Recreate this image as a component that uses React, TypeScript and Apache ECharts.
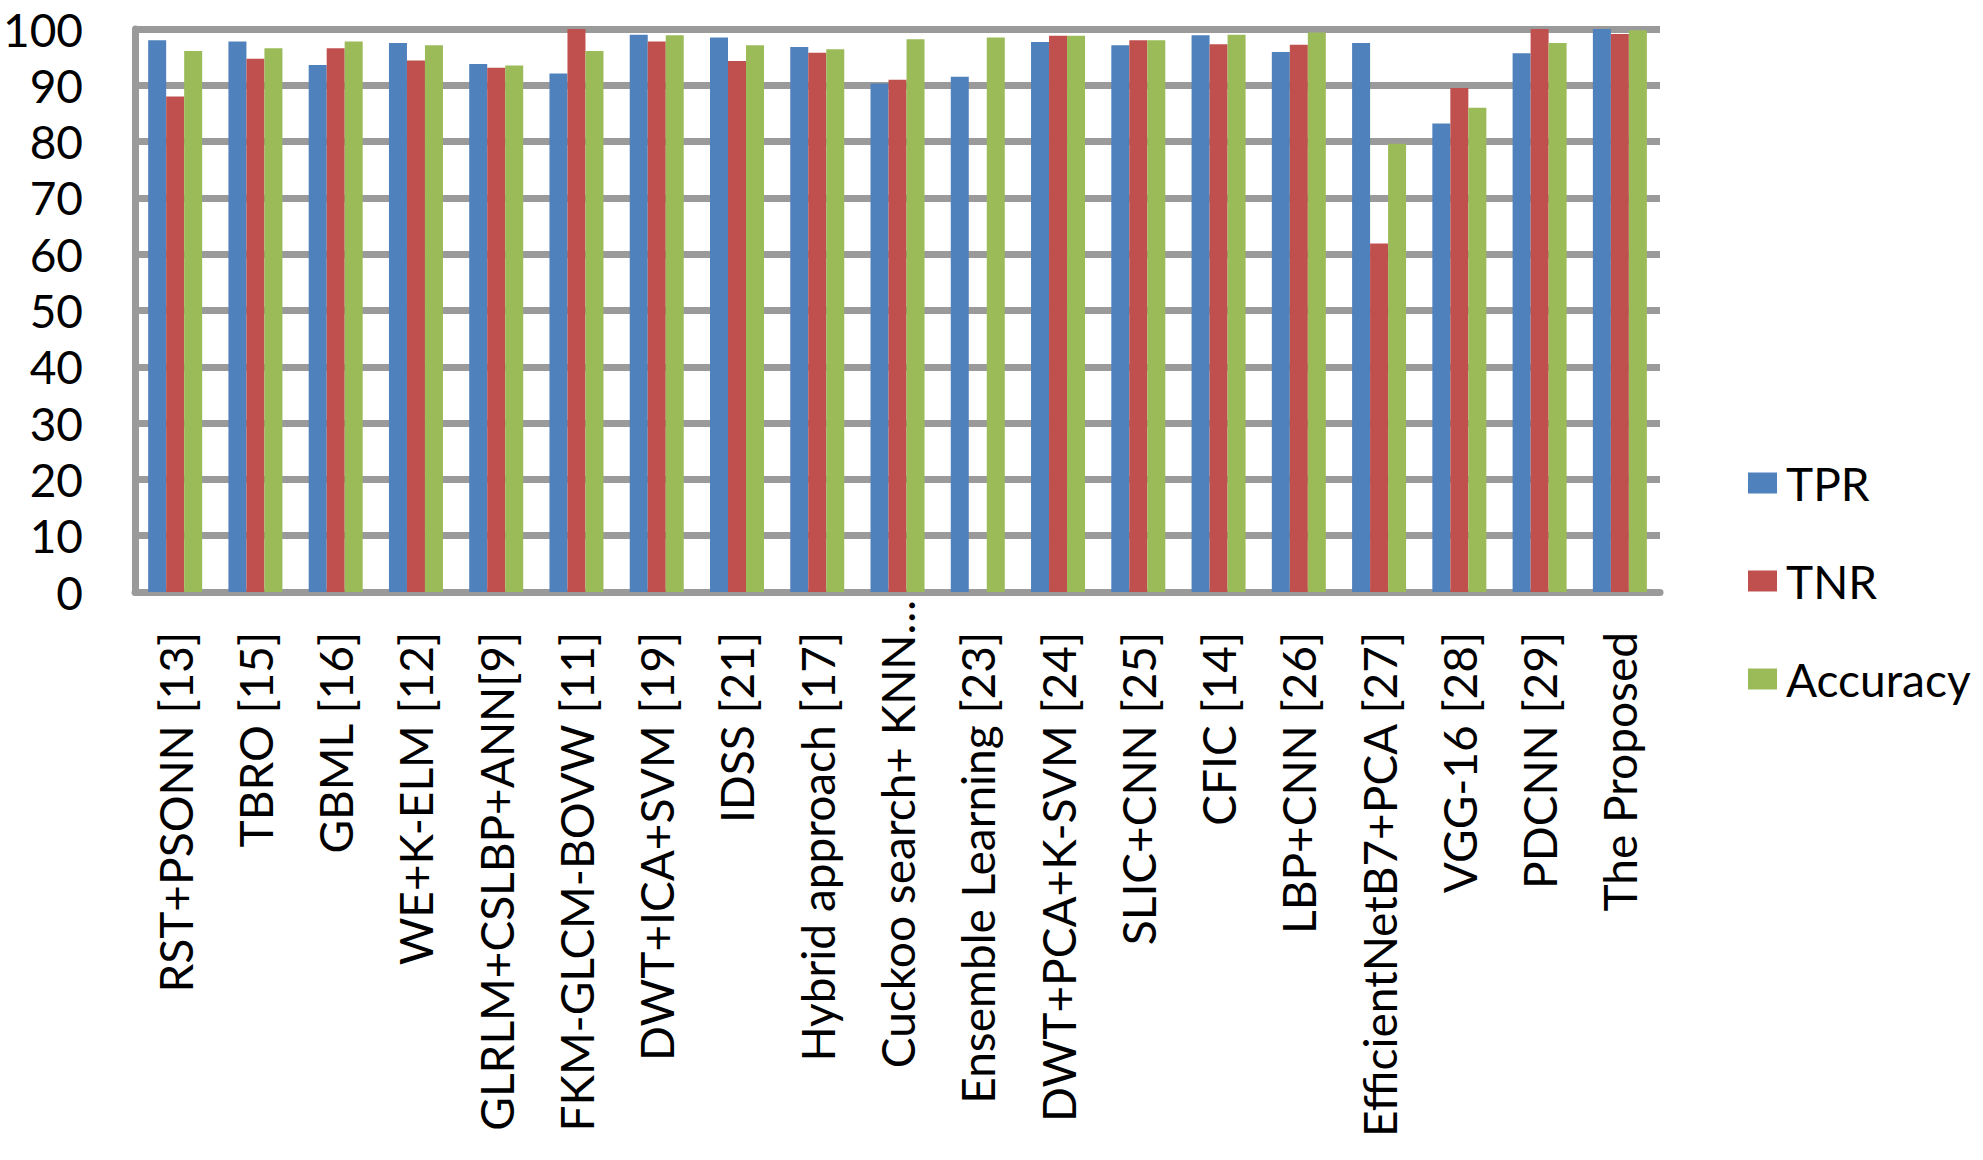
import React, { useEffect, useRef } from "react";
import * as echarts from "echarts";

const categories = [
  "RST+PSONN [13]",
  "TBRO [15]",
  "GBML [16]",
  "WE+K-ELM [12]",
  "GLRLM+CSLBP+ANN[9]",
  "FKM-GLCM-BOVW [11]",
  "DWT+ICA+SVM [19]",
  "IDSS [21]",
  "Hybrid approach [17]",
  "Cuckoo search+ KNN…",
  "Ensemble Learning [23]",
  "DWT+PCA+K-SVM [24]",
  "SLIC+CNN [25]",
  "CFIC [14]",
  "LBP+CNN [26]",
  "EfficientNetB7+PCA [27]",
  "VGG-16 [28]",
  "PDCNN [29]",
  "The Proposed",
];

const tpr = [98.0, 97.8, 93.6, 97.5, 93.8, 92.1, 99.0, 98.5, 96.8, 90.3, 91.5, 97.7, 97.1, 98.9, 95.9, 97.5, 83.2, 95.7, 100];
const tnr = [88.0, 94.7, 96.6, 94.4, 93.1, 100, 97.8, 94.3, 95.8, 91.0, null, 98.8, 98.0, 97.3, 97.2, 61.9, 89.5, 100, 99.1];
const accuracy = [96.1, 96.6, 97.8, 97.1, 93.5, 96.1, 98.9, 97.1, 96.4, 98.2, 98.5, 98.8, 98.0, 99.0, 99.4, 79.6, 86.0, 97.5, 99.8];

const seriesNames = ["TPR", "TNR", "Accuracy"];
const seriesColors = ["#4F81BD", "#C0504D", "#9BBB59"];
const yTicks = [0, 100, 10];

const FONT = "Lato";
const GRAY = "#9a9a9a";

export default function App() {
  const ref = useRef<HTMLDivElement>(null);
  useEffect(() => {
    document.body.style.margin = "0";
    const chart = echarts.init(ref.current!, null, { renderer: "svg" });
    const data = [tpr, tnr, accuracy];
    chart.setOption({
      animation: false,
      backgroundColor: "#ffffff",
      textStyle: { fontFamily: FONT },
      grid: { left: 132, right: 323, top: 29, bottom: 568, containLabel: false },
      legend: {
        orient: "vertical",
        left: 1743,
        top: 455,
        itemWidth: 29,
        itemHeight: 21,
        itemGap: 52,
        icon: "rect",
        data: seriesNames,
        textStyle: { fontFamily: FONT, fontSize: 46, color: "#000", lineHeight: 46, padding: [0, 0, 0, 4] },
      },
      xAxis: {
        type: "category",
        data: categories,
        axisLine: { show: true, lineStyle: { color: GRAY, width: 7 } },
        axisTick: { show: false },
        axisLabel: {
          rotate: 90,
          interval: 0,
          margin: 8,
          fontFamily: FONT,
          fontSize: 46,
          color: "#000",
          formatter: (v: string) => (v.endsWith("…") ? `{c|${v}}` : `{n|${v}}`),
          rich: {
            n: { fontFamily: FONT, fontSize: 46, color: "#000", padding: [0, 32, 0, 0] },
            c: { fontFamily: FONT, fontSize: 46, color: "#000", padding: [0, 0, 0, 0] },
          },
        },
        splitLine: { show: false },
      },
      yAxis: {
        type: "value",
        min: yTicks[0],
        max: yTicks[1],
        interval: yTicks[2],
        axisLine: { show: true, lineStyle: { color: GRAY, width: 7 } },
        axisTick: { show: false },
        axisLabel: { fontFamily: FONT, fontSize: 46, color: "#000", margin: 52 },
        splitLine: { show: true, lineStyle: { color: GRAY, width: 7 } },
      },
      series: seriesNames.map((name, i) => ({
        name,
        type: "bar",
        data: data[i],
        barWidth: 18,
        barGap: "0%",
        itemStyle: { color: seriesColors[i] },
      })),
    });
    return () => chart.dispose();
  }, []);
  return <div ref={ref} style={{ width: 1983, height: 1160 }} />;
}
